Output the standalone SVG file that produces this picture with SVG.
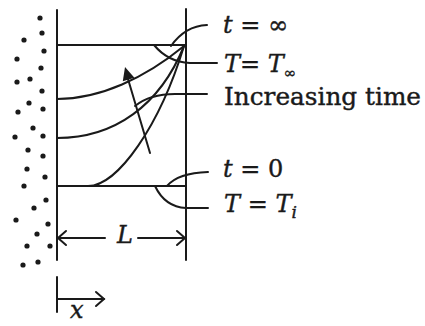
<svg xmlns="http://www.w3.org/2000/svg" width="425" height="326" viewBox="0 0 425 326">
<style>
.ln{fill:none;stroke:#1a1a1a;stroke-width:2;stroke-linecap:round}
.dot{fill:#1a1a1a}
.tx{font-family:"DejaVu Serif","Liberation Serif",serif;font-size:24px;fill:#1a1a1a;stroke:#1a1a1a;stroke-width:0.4}
.it{font-style:italic}
</style>
<rect width="425" height="326" fill="#fff"/>
<g id="dots" class="dot">
<circle cx="40" cy="18" r="2.6"/><circle cx="42" cy="33" r="2.6"/><circle cx="24" cy="40" r="2.6"/><circle cx="44" cy="51" r="2.6"/>
<circle cx="17" cy="59" r="2.6"/><circle cx="41" cy="68" r="2.6"/><circle cx="30" cy="79" r="2.6"/><circle cx="17" cy="82" r="2.6"/>
<circle cx="42" cy="91" r="2.6"/><circle cx="29" cy="103" r="2.6"/><circle cx="43" cy="109" r="2.6"/><circle cx="18" cy="112" r="2.6"/>
<circle cx="33" cy="128" r="2.6"/><circle cx="15" cy="137" r="2.6"/><circle cx="43" cy="136" r="2.6"/><circle cx="28" cy="150" r="2.6"/>
<circle cx="43" cy="156" r="2.6"/><circle cx="27" cy="169" r="2.6"/><circle cx="45" cy="177" r="2.6"/><circle cx="24" cy="186" r="2.6"/>
<circle cx="46" cy="200" r="2.6"/><circle cx="34" cy="208" r="2.6"/><circle cx="16" cy="220" r="2.6"/><circle cx="48" cy="224" r="2.6"/>
<circle cx="37" cy="234" r="2.6"/><circle cx="27" cy="246" r="2.6"/><circle cx="50" cy="246" r="2.6"/><circle cx="23" cy="265" r="2.6"/>
<circle cx="38" cy="262" r="2.6"/>
</g>
<g id="slab" class="ln">
<line x1="57" y1="10" x2="57" y2="260"/>
<line x1="186" y1="9" x2="186" y2="260"/>
<line x1="57" y1="45" x2="186" y2="45"/>
<line x1="57" y1="186" x2="186" y2="186"/>
</g>
<g id="profiles" class="ln">
<path d="M57,99 C100,99 145,78 184,46"/>
<path d="M57,138 C115,138 160,105 184,46"/>
<path d="M88,186 C118,186 160,125 184,46"/>
</g>
<g id="connectors" class="ln">
<path d="M171,46 Q185,26 207,25"/>
<path d="M154,45 Q168,62 190,63 L217,63"/>
<path d="M135,106 Q150,94 175,94 L207,94"/>
<path d="M167,186 Q178,173 208,172"/>
<path d="M155,186 Q165,207 186,208 L208,208"/>
<line x1="150" y1="153" x2="128" y2="79"/>
<polygon points="125,67 134.4,77.8 122.8,81.2" fill="#1a1a1a" stroke="none"/>
<line x1="57" y1="238" x2="105" y2="238"/>
<path d="M66,231 L58,238 L66,245"/>
<line x1="138" y1="238" x2="185" y2="238"/>
<path d="M177,231 L185,238 L177,245"/>
<line x1="57" y1="277" x2="57" y2="312"/>
<line x1="57" y1="299" x2="104" y2="299"/>
<path d="M96,292 L104,299 L96,306"/>
</g>
<g id="labels" class="tx">
<text x="223" y="33"><tspan class="it">t</tspan> = ∞</text>
<text x="224" y="72"><tspan class="it">T</tspan>= <tspan class="it">T</tspan><tspan font-size="15" dy="6">∞</tspan></text>
<text x="224" y="105" textLength="197" lengthAdjust="spacingAndGlyphs">Increasing time</text>
<text x="223" y="177"><tspan class="it">t</tspan> = 0</text>
<text x="224" y="212"><tspan class="it">T</tspan> = <tspan class="it">T</tspan><tspan class="it" font-size="17" dy="6">i</tspan></text>
<text x="117" y="243" class="it">L</text>
<text x="70" y="318" class="it">x</text>
</g>
</svg>
